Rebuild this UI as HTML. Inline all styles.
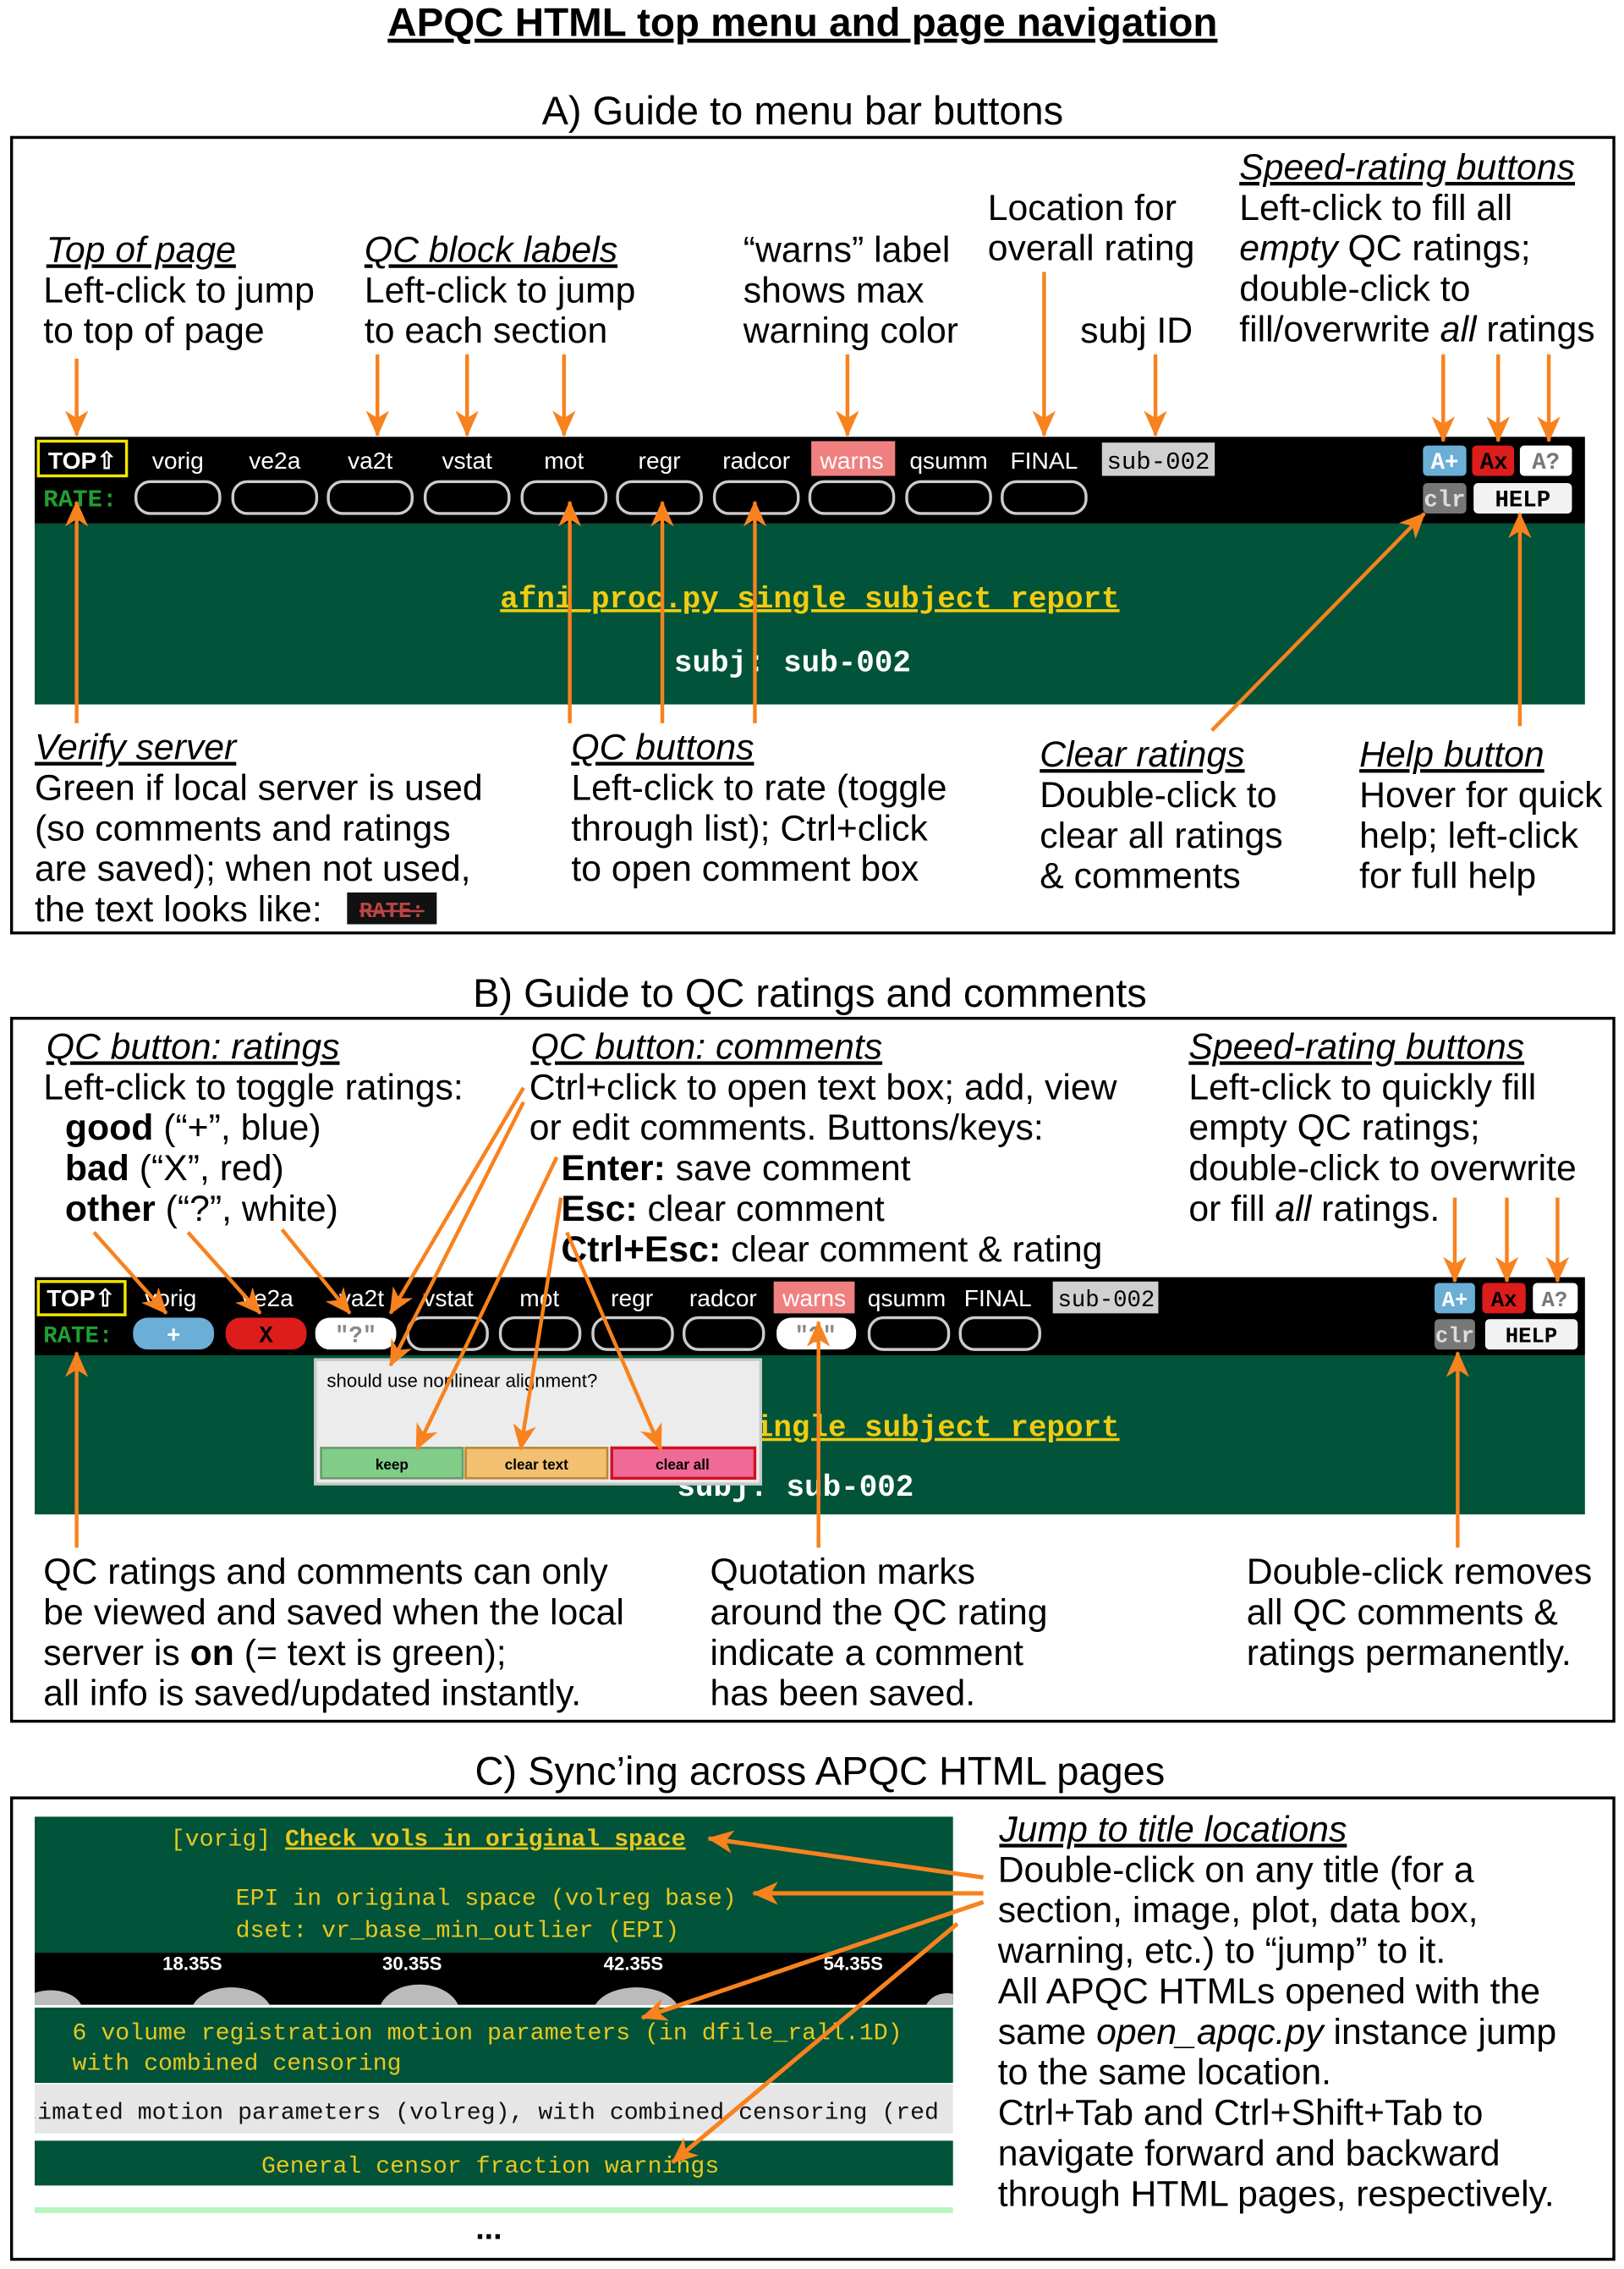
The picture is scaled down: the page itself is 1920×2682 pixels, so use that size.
<!DOCTYPE html>
<html><head><meta charset="utf-8"><style>
html,body{margin:0;padding:0;background:#fff;}
svg{display:block;}
.t{font-family:"Liberation Sans",Arial,sans-serif;font-size:25px;fill:#000;}
.h{font-style:italic;text-decoration:underline;}
.m{font-family:"Liberation Sans",Arial,sans-serif;font-size:16.5px;fill:#fff;}
.mono{font-family:"Liberation Mono","DejaVu Sans Mono",monospace;}
.ar{stroke:#f7821e;stroke-width:2.6;fill:none;}
</style></head><body>
<svg width="1920" height="2682" viewBox="0 0 1123 1568.7" xmlns="http://www.w3.org/2000/svg">
<defs>
<marker id="a" markerUnits="userSpaceOnUse" markerWidth="18" markerHeight="16" refX="17" refY="8" orient="auto">
<path d="M0,0 L18,8 L0,16 L5,8 Z" fill="#f7821e"/></marker>
<clipPath id="strip"><rect x="24" y="1350" width="635" height="36"/></clipPath>
</defs>
<rect width="1123" height="1569" fill="#fff"/>
<text x="555" y="25" text-anchor="middle" class="t" style="font-weight:bold;font-size:27.8px;text-decoration:underline">APQC HTML top menu  and page navigation</text>

<!-- ===== A ===== -->
<text x="555" y="86" text-anchor="middle" class="t" style="font-size:27.5px">A) Guide to menu bar buttons</text>
<rect x="8" y="95" width="1108" height="550" fill="none" stroke="#000" stroke-width="2"/>

<text class="t"><tspan x="32" y="181" class="h">Top of page</tspan><tspan x="30" y="209">Left-click to jump</tspan><tspan x="30" y="237">to top of page</tspan></text>
<text class="t"><tspan x="252" y="181" class="h">QC block labels</tspan><tspan x="252" y="209">Left-click to jump</tspan><tspan x="252" y="237">to each section</tspan></text>
<text class="t"><tspan x="514" y="181">“warns” label</tspan><tspan x="514" y="209">shows max</tspan><tspan x="514" y="237">warning color</tspan></text>
<text class="t"><tspan x="683" y="152">Location for</tspan><tspan x="683" y="180">overall rating</tspan><tspan x="747" y="237">subj ID</tspan></text>
<text class="t"><tspan x="857" y="124" class="h">Speed-rating buttons</tspan><tspan x="857" y="152">Left-click to fill all</tspan><tspan x="857" y="180" font-style="italic">empty</tspan><tspan> QC ratings;</tspan><tspan x="857" y="208">double-click to</tspan><tspan x="857" y="236">fill/overwrite </tspan><tspan font-style="italic">all</tspan><tspan> ratings</tspan></text>

<rect x="24" y="302" width="1072" height="60" fill="#000"/>
<rect x="24" y="362" width="1072" height="125" fill="#01533a"/>
<rect x="26.5" y="305" width="61" height="24" fill="none" stroke="#f2e600" stroke-width="2"/>
<text x="57" y="324" text-anchor="middle" class="m" style="font-weight:bold">TOP⇧</text>
<rect x="561" y="305" width="58" height="24" fill="#f08080"/>
<rect x="762" y="306" width="78" height="23" fill="#d0d0d0"/>
<g class="m" text-anchor="middle">
<text x="123" y="324">vorig</text><text x="190" y="324">ve2a</text><text x="256" y="324">va2t</text><text x="323" y="324">vstat</text><text x="390" y="324">mot</text><text x="456" y="324">regr</text><text x="523" y="324">radcor</text><text x="589" y="324">warns</text><text x="656" y="324">qsumm</text><text x="722" y="324">FINAL</text>
</g>
<text x="801" y="324" text-anchor="middle" class="mono" style="font-size:17px" fill="#000">sub-002</text>
<text x="30" y="350" class="mono" style="font-size:17px;font-weight:bold" fill="#1fa032">RATE:</text>
<g fill="none" stroke="#ccc" stroke-width="2">
<rect x="94" y="333" width="58" height="22" rx="10"/><rect x="161" y="333" width="58" height="22" rx="10"/><rect x="227" y="333" width="58" height="22" rx="10"/><rect x="294" y="333" width="58" height="22" rx="10"/><rect x="361" y="333" width="58" height="22" rx="10"/><rect x="427" y="333" width="58" height="22" rx="10"/><rect x="494" y="333" width="58" height="22" rx="10"/><rect x="560" y="333" width="58" height="22" rx="10"/><rect x="627" y="333" width="58" height="22" rx="10"/><rect x="693" y="333" width="58" height="22" rx="10"/>
</g>
<rect x="984" y="308" width="30" height="21" rx="3" fill="#6baed6"/><rect x="1018" y="308" width="29" height="21" rx="3" fill="#dd1c1c"/><rect x="1051" y="308" width="36" height="21" rx="3" fill="#fff"/>
<rect x="984" y="334" width="30" height="21" rx="3" fill="#777"/><rect x="1019" y="334" width="68" height="21" rx="3" fill="#f2f2f2"/>
<g class="mono" style="font-size:16px;font-weight:bold" text-anchor="middle">
<text x="999" y="324" fill="#fff">A+</text><text x="1033" y="324" fill="#000">Ax</text><text x="1069" y="324" fill="#777">A?</text>
<text x="999" y="350" fill="#ddd">clr</text><text x="1053" y="350" fill="#000">HELP</text>
</g>
<text x="560" y="420" text-anchor="middle" class="mono" style="font-size:21px;font-weight:bold;text-decoration:underline" fill="#f0cc10">afni_proc.py single subject report</text>
<text x="548" y="464" text-anchor="middle" class="mono" style="font-size:21px;font-weight:bold" fill="#fff">subj: sub-002</text>

<g class="ar" marker-end="url(#a)">
<line x1="53" y1="248" x2="53" y2="301"/><line x1="261" y1="245" x2="261" y2="301"/><line x1="323" y1="245" x2="323" y2="301"/><line x1="390" y1="245" x2="390" y2="301"/><line x1="586" y1="245" x2="586" y2="301"/><line x1="722" y1="188" x2="722" y2="301"/><line x1="799" y1="245" x2="799" y2="301"/><line x1="998" y1="245" x2="998" y2="305"/><line x1="1036" y1="245" x2="1036" y2="305"/><line x1="1071" y1="245" x2="1071" y2="305"/>
<line x1="53" y1="500" x2="53" y2="347"/><line x1="394" y1="500" x2="394" y2="347"/><line x1="458" y1="500" x2="458" y2="347"/><line x1="522" y1="500" x2="522" y2="347"/><line x1="1051" y1="502" x2="1051" y2="355"/><line x1="838" y1="505" x2="985" y2="355"/>
</g>

<text class="t"><tspan x="24" y="525" class="h">Verify server</tspan><tspan x="24" y="553">Green if local server is used</tspan><tspan x="24" y="581">(so comments and ratings</tspan><tspan x="24" y="609">are saved); when not used,</tspan><tspan x="24" y="637">the text looks like:</tspan></text>
<rect x="240" y="617" width="62" height="22" fill="#111"/>
<text x="271" y="634" text-anchor="middle" class="mono" style="font-size:15px;font-weight:bold;text-decoration:line-through" fill="#b44">RATE:</text>
<text class="t"><tspan x="395" y="525" class="h">QC buttons</tspan><tspan x="395" y="553">Left-click to rate (toggle</tspan><tspan x="395" y="581">through list); Ctrl+click</tspan><tspan x="395" y="609">to open comment box</tspan></text>
<text class="t"><tspan x="719" y="530" class="h">Clear ratings</tspan><tspan x="719" y="558">Double-click to</tspan><tspan x="719" y="586">clear all ratings</tspan><tspan x="719" y="614">&amp; comments</tspan></text>
<text class="t"><tspan x="940" y="530" class="h">Help button</tspan><tspan x="940" y="558">Hover for quick</tspan><tspan x="940" y="586">help; left-click</tspan><tspan x="940" y="614">for full help</tspan></text>

<!-- ===== B ===== -->
<text x="560" y="696" text-anchor="middle" class="t" style="font-size:27.5px">B) Guide to QC ratings and comments</text>
<rect x="8" y="704" width="1108" height="486" fill="none" stroke="#000" stroke-width="2"/>
<text class="t"><tspan x="32" y="732" class="h">QC button: ratings</tspan><tspan x="30" y="760">Left-click to toggle ratings:</tspan><tspan x="45" y="788" font-weight="bold">good</tspan><tspan> (“+”, blue)</tspan><tspan x="45" y="816" font-weight="bold">bad</tspan><tspan> (“X”, red)</tspan><tspan x="45" y="844" font-weight="bold">other</tspan><tspan> (“?”, white)</tspan></text>
<text class="t"><tspan x="367" y="732" class="h">QC button: comments</tspan><tspan x="366" y="760">Ctrl+click to open text box; add, view</tspan><tspan x="366" y="788">or edit comments. Buttons/keys:</tspan><tspan x="388" y="816" font-weight="bold">Enter:</tspan><tspan> save comment</tspan><tspan x="388" y="844" font-weight="bold">Esc:</tspan><tspan> clear comment</tspan><tspan x="388" y="872" font-weight="bold">Ctrl+Esc:</tspan><tspan> clear comment &amp; rating</tspan></text>
<text class="t"><tspan x="822" y="732" class="h">Speed-rating buttons</tspan><tspan x="822" y="760">Left-click to quickly fill</tspan><tspan x="822" y="788">empty QC ratings;</tspan><tspan x="822" y="816">double-click to overwrite</tspan><tspan x="822" y="844">or fill </tspan><tspan font-style="italic">all</tspan><tspan> ratings.</tspan></text>

<rect x="24" y="883" width="1072" height="54" fill="#000"/>
<rect x="24" y="937" width="1072" height="110" fill="#01533a"/>
<rect x="26.5" y="886" width="60" height="23" fill="none" stroke="#f2e600" stroke-width="2"/>
<text x="56" y="903" text-anchor="middle" class="m" style="font-weight:bold">TOP⇧</text>
<rect x="535" y="886" width="56" height="22" fill="#f08080"/>
<rect x="728" y="886" width="73" height="22" fill="#d0d0d0"/>
<g class="m" text-anchor="middle">
<text x="118" y="903">vorig</text><text x="185" y="903">ve2a</text><text x="250" y="903">va2t</text><text x="310" y="903">vstat</text><text x="373" y="903">mot</text><text x="437" y="903">regr</text><text x="500" y="903">radcor</text><text x="563" y="903">warns</text><text x="627" y="903">qsumm</text><text x="690" y="903">FINAL</text>
</g>
<text x="765" y="903" text-anchor="middle" class="mono" style="font-size:16px" fill="#000">sub-002</text>
<text x="30" y="928" class="mono" style="font-size:16px;font-weight:bold" fill="#1fa032">RATE:</text>
<rect x="92" y="911" width="56" height="22" rx="10" fill="#6baed6"/>
<rect x="156" y="911" width="56" height="22" rx="10" fill="#dd1c1c"/>
<rect x="218" y="911" width="56" height="22" rx="10" fill="#fff"/>
<rect x="537" y="911" width="55" height="22" rx="10" fill="#fff"/>
<g fill="none" stroke="#ccc" stroke-width="2">
<rect x="282" y="911" width="55" height="22" rx="10"/><rect x="346" y="911" width="55" height="22" rx="10"/><rect x="410" y="911" width="55" height="22" rx="10"/><rect x="473" y="911" width="55" height="22" rx="10"/><rect x="601" y="911" width="55" height="22" rx="10"/><rect x="664" y="911" width="55" height="22" rx="10"/>
</g>
<g class="mono" style="font-size:16px;font-weight:bold" text-anchor="middle">
<text x="120" y="928" fill="#fff">+</text><text x="184" y="928" fill="#000">X</text><text x="246" y="928" fill="#888">"?"</text><text x="564" y="928" fill="#888">"?"</text>
</g>
<rect x="992" y="887" width="28" height="21" rx="3" fill="#6baed6"/><rect x="1025" y="887" width="30" height="21" rx="3" fill="#dd1c1c"/><rect x="1060" y="887" width="31" height="21" rx="3" fill="#fff"/>
<rect x="992" y="912" width="28" height="21" rx="3" fill="#777"/><rect x="1027" y="912" width="64" height="21" rx="3" fill="#f2f2f2"/>
<g class="mono" style="font-size:15px;font-weight:bold" text-anchor="middle">
<text x="1006" y="903" fill="#fff">A+</text><text x="1040" y="903" fill="#000">Ax</text><text x="1075" y="903" fill="#777">A?</text>
<text x="1006" y="928" fill="#ddd">clr</text><text x="1059" y="928" fill="#000">HELP</text>
</g>
<text x="560" y="993" text-anchor="middle" class="mono" style="font-size:21px;font-weight:bold;text-decoration:underline" fill="#f0cc10">afni_proc.py single subject report</text>
<text x="550" y="1034" text-anchor="middle" class="mono" style="font-size:21px;font-weight:bold" fill="#fff">subj: sub-002</text>
<rect x="218" y="940" width="308" height="86" fill="#ececec" stroke="#c8c8c8" stroke-width="2"/>
<text x="226" y="959" class="t" style="font-size:13px">should use nonlinear alignment?</text>
<rect x="222" y="1001" width="98" height="21" fill="#80cc88" stroke="#6a9a6a" stroke-width="1.5"/>
<rect x="322" y="1001" width="98" height="21" fill="#f2c070" stroke="#b88830" stroke-width="1.5"/>
<rect x="423" y="1001" width="99" height="21" fill="#f06a98" stroke="#d01020" stroke-width="2"/>
<g class="t" style="font-size:10px;font-weight:bold" text-anchor="middle">
<text x="271" y="1016">keep</text><text x="371" y="1016">clear text</text><text x="472" y="1016">clear all</text>
</g>

<g class="ar" marker-end="url(#a)">
<line x1="65" y1="852" x2="115" y2="908"/><line x1="130" y1="852" x2="180" y2="908"/><line x1="195" y1="850" x2="242" y2="908"/>
<line x1="362" y1="752" x2="270" y2="908"/><line x1="362" y1="762" x2="270" y2="944"/>
<line x1="385" y1="800" x2="288" y2="1002"/><line x1="388" y1="828" x2="360" y2="1002"/><line x1="392" y1="852" x2="457" y2="1002"/>
<line x1="1006" y1="828" x2="1006" y2="886"/><line x1="1042" y1="828" x2="1042" y2="886"/><line x1="1077" y1="828" x2="1077" y2="886"/>
<line x1="53" y1="1070" x2="53" y2="935"/><line x1="566" y1="1070" x2="566" y2="914"/><line x1="1008" y1="1070" x2="1008" y2="935"/>
</g>

<text class="t"><tspan x="30" y="1095">QC ratings and comments can only</tspan><tspan x="30" y="1123">be viewed and saved when the local</tspan><tspan x="30" y="1151">server is </tspan><tspan font-weight="bold">on</tspan><tspan> (= text is green);</tspan><tspan x="30" y="1179">all info is saved/updated instantly.</tspan></text>
<text class="t"><tspan x="491" y="1095">Quotation marks</tspan><tspan x="491" y="1123">around the QC rating</tspan><tspan x="491" y="1151">indicate a comment</tspan><tspan x="491" y="1179">has been saved.</tspan></text>
<text class="t"><tspan x="862" y="1095">Double-click removes</tspan><tspan x="862" y="1123">all QC comments &amp;</tspan><tspan x="862" y="1151">ratings permanently.</tspan></text>

<!-- ===== C ===== -->
<text x="567" y="1234" text-anchor="middle" class="t" style="font-size:27.5px">C) Sync’ing across APQC HTML pages</text>
<rect x="8" y="1243" width="1108" height="319" fill="none" stroke="#000" stroke-width="2"/>
<rect x="24" y="1256" width="635" height="94" fill="#01533a"/>
<g class="mono" style="font-size:16.5px" fill="#e8c820">
<text x="118" y="1276">[vorig] <tspan font-weight="bold" text-decoration="underline">Check vols in original space</tspan></text>
<text x="163" y="1317">EPI in original space (volreg base)</text>
<text x="163" y="1339">dset: vr_base_min_outlier (EPI)</text>
</g>
<rect x="24" y="1350" width="635" height="36" fill="#000"/>
<g fill="#bbb" clip-path="url(#strip)">
<ellipse cx="35" cy="1390" rx="22" ry="14"/><ellipse cx="160" cy="1392" rx="28" ry="18"/><ellipse cx="290" cy="1392" rx="28" ry="20"/><ellipse cx="440" cy="1392" rx="30" ry="18"/><ellipse cx="655" cy="1392" rx="16" ry="14"/>
</g>
<g style="font-family:'Liberation Sans',Arial,sans-serif;font-size:13px;font-weight:bold;fill:#fff" text-anchor="middle">
<text x="133" y="1362">18.35S</text><text x="285" y="1362">30.35S</text><text x="438" y="1362">42.35S</text><text x="590" y="1362">54.35S</text>
</g>
<rect x="24" y="1388" width="635" height="52" fill="#01533a"/>
<g class="mono" style="font-size:16.5px" fill="#e8c820">
<text x="50" y="1410">6 volume registration motion parameters (in dfile_rall.1D)</text>
<text x="50" y="1431">with combined censoring</text>
</g>
<rect x="24" y="1441" width="635" height="34" fill="#e6e6e6"/>
<svg x="24" y="1441" width="635" height="34" viewBox="0 0 635 34"><text x="-8" y="24" class="mono" style="font-size:16.5px" fill="#111">timated motion parameters (volreg), with combined censoring (red</text></svg>
<rect x="24" y="1480" width="635" height="31" fill="#01533a"/>
<text x="339" y="1502" text-anchor="middle" class="mono" style="font-size:16.5px" fill="#e8c820">General censor fraction warnings</text>
<rect x="24" y="1526" width="635" height="4" fill="#b8f5c0"/>
<text x="338" y="1548" text-anchor="middle" class="t" style="font-size:22px;font-weight:bold">...</text>

<g class="ar" marker-end="url(#a)" style="stroke-width:3">
<line x1="680" y1="1298" x2="490" y2="1271"/><line x1="680" y1="1309" x2="521" y2="1309"/><line x1="680" y1="1315" x2="444" y2="1395"/><line x1="662" y1="1330" x2="465" y2="1495"/>
</g>
<text class="t"><tspan x="691" y="1273" class="h">Jump to title locations</tspan><tspan x="690" y="1301">Double-click on any title (for a</tspan><tspan x="690" y="1329">section, image, plot, data box,</tspan><tspan x="690" y="1357">warning, etc.) to “jump” to it.</tspan><tspan x="690" y="1385">All APQC HTMLs opened with the</tspan><tspan x="690" y="1413">same </tspan><tspan font-style="italic">open_apqc.py</tspan><tspan> instance jump</tspan><tspan x="690" y="1441">to the same location.</tspan><tspan x="690" y="1469">Ctrl+Tab and Ctrl+Shift+Tab to</tspan><tspan x="690" y="1497">navigate forward and backward</tspan><tspan x="690" y="1525">through HTML pages, respectively.</tspan></text>
</svg>
</body></html>
